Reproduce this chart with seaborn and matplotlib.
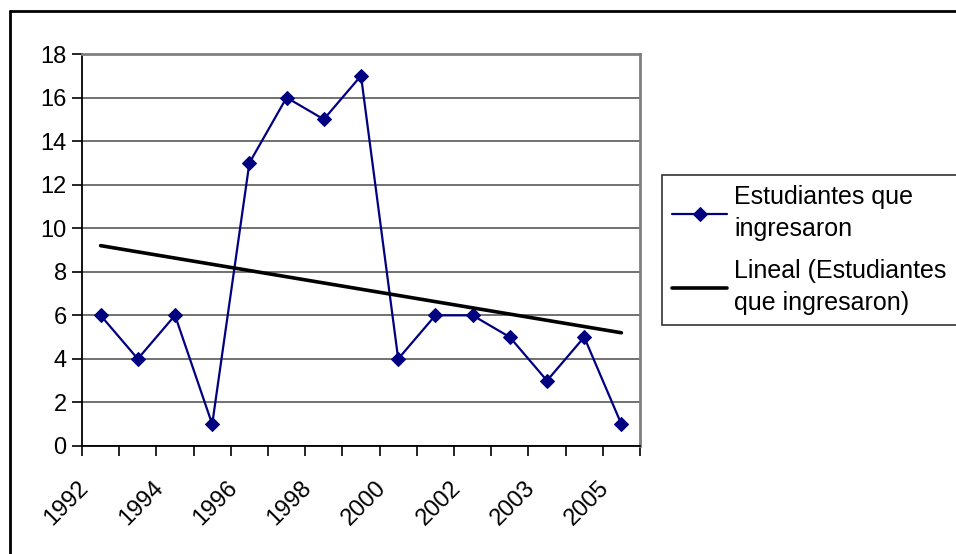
import matplotlib
matplotlib.use("Agg")
import matplotlib.pyplot as plt
from matplotlib.lines import Line2D
from matplotlib.transforms import ScaledTranslation
import seaborn as sns
import numpy as np

# Students admitted per period (15 periods)
periods = list(range(1, 16))
students = [6, 4, 6, 1, 13, 16, 15, 17, 4, 6, 6, 5, 3, 5, 1]
# Labels shown on every other period
label_positions = [1, 3, 5, 7, 9, 11, 13, 15]
tick_labels = ["1992", "1994", "1996", "1998", "2000", "2002", "2003", "2005"]
y_ticks = [0, 2, 4, 6, 8, 10, 12, 14, 16, 18]

sns.set_theme(style="white")
plt.rcParams["font.family"] = ["Liberation Sans", "DejaVu Sans"]
plt.rcParams["text.color"] = "black"
plt.rcParams["xtick.color"] = "black"
plt.rcParams["ytick.color"] = "black"

fig = plt.figure(figsize=(9.56, 5.54), dpi=100)
ax = fig.add_axes([82 / 956, 1 - 446 / 554, (640 - 82) / 956, (446 - 54) / 554])

navy = "#000080"
sns.lineplot(x=periods, y=students, ax=ax, color=navy, lw=1.6, marker="D",
             markersize=7, markeredgecolor=navy, label="Estudiantes que\ningresaron",
             zorder=3, legend=False)
sns.regplot(x=periods, y=students, ax=ax, scatter=False, ci=None, truncate=True,
            line_kws=dict(color="black", lw=2.6, zorder=4),
            label="Lineal (Estudiantes\nque ingresaron)")

ax.set_xlim(0.5, 15.5)
ax.set_ylim(0, 18)
ax.set_yticks(y_ticks)
ax.set_yticklabels([str(v) for v in y_ticks], fontsize=17)

# Tick marks sit on the category boundaries; year labels are placed separately
ax.set_xticks(np.arange(0.5, 16, 1))
ax.set_xticklabels([])
ax.tick_params(axis="x", length=7, width=1.2, color="black", direction="out",
               bottom=True)
label_shift = ScaledTranslation(-23 / 100, -31 / 100, fig.dpi_scale_trans)
for pos, txt in zip(label_positions, tick_labels):
    ax.text(pos, 0, txt, transform=ax.get_xaxis_transform() + label_shift,
            fontsize=17, rotation=45, ha="right", va="top",
            rotation_mode="anchor", color="black")

ax.tick_params(axis="y", length=7, width=1.2, color="black", direction="out",
               left=True, pad=4, labelcolor="black")
ax.set_xlabel("")
ax.set_ylabel("")
if ax.get_legend() is not None:
    ax.get_legend().remove()

for v in y_ticks[1:]:
    ax.axhline(v, color="#4a4a4a", lw=1.1, zorder=1)
ax.axhline(0, color="black", lw=1.2, zorder=2)

for side in ["left", "bottom"]:
    ax.spines[side].set_color("black")
    ax.spines[side].set_linewidth(1.3)
for side in ["top", "right"]:
    ax.spines[side].set_color("#808080")
    ax.spines[side].set_linewidth(2.0)

handles, labels = ax.get_legend_handles_labels()
leg = fig.legend(handles, labels, loc="upper left",
                 bbox_to_anchor=(662 / 956, 1 - 175 / 554),
                 fontsize=18, frameon=True, fancybox=False, handlelength=2.2,
                 handletextpad=0.3, borderpad=0.4, labelspacing=0.75,
                 borderaxespad=0)
for t in leg.get_texts():
    t.set_linespacing(1.4)
    t.set_color("black")
leg.get_frame().set_edgecolor("black")
leg.get_frame().set_linewidth(1.2)

# Outer chart border (left and top edges fall inside the canvas)
fig.add_artist(Line2D([9.5 / 956, 9.5 / 956], [0, 1 - 11 / 554],
                      transform=fig.transFigure, color="black", lw=2))
fig.add_artist(Line2D([9.5 / 956, 1], [1 - 11 / 554, 1 - 11 / 554],
                      transform=fig.transFigure, color="black", lw=2))

fig.savefig("out.png", dpi=100)
